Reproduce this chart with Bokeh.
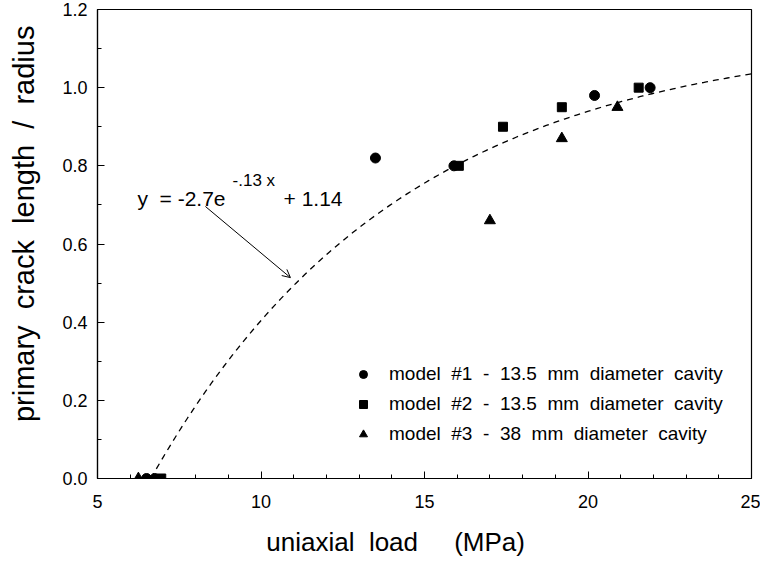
import numpy as np
from bokeh.plotting import figure
from bokeh.models import (Range1d, FixedTicker, PrintfTickFormatter, Label, Arrow,
                          OpenHead, Legend, LegendItem)
from bokeh.embed import file_html
from bokeh.resources import INLINE

# ---- data ----
m1_x = [6.5, 6.75, 13.5, 15.9, 20.2, 21.9]
m1_y = [0.0, 0.0, 0.82, 0.80, 0.98, 1.00]
m2_x = [6.95, 16.05, 17.4, 19.2, 21.55]
m2_y = [0.0, 0.80, 0.90, 0.95, 1.00]
m3_x = [6.25, 17.0, 19.2, 20.9]
m3_y = [0.0, 0.66, 0.87, 0.95]

NB = "\u00a0"
labels = [f"model{NB*2}#1{NB*2}-{NB*2}13.5{NB*2}mm{NB*2}diameter{NB*2}cavity",
          f"model{NB*2}#2{NB*2}-{NB*2}13.5{NB*2}mm{NB*2}diameter{NB*2}cavity",
          f"model{NB*2}#3{NB*2}-{NB*2}38{NB*2}mm{NB*2}diameter{NB*2}cavity"]

# fitted curve shown in the chart: y = a*exp(b*x) + c
fit_a, fit_b, fit_c = -2.7, -0.13, 1.14
x_ticks = [5, 10, 15, 20, 25]
y_ticks = [0.0, 0.2, 0.4, 0.6, 0.8, 1.0, 1.2]

FONT = "Liberation Sans"

p = figure(width=760, height=559, x_range=Range1d(5, 25), y_range=Range1d(0, 1.2),
           output_backend="svg", toolbar_location=None,
           min_border_left=97, min_border_right=9, min_border_top=9, min_border_bottom=81)

p.grid.visible = False
p.outline_line_color = "black"
p.outline_line_width = 1.2
p.background_fill_color = "white"
p.border_fill_color = "white"

# axes
p.xaxis.ticker = FixedTicker(ticks=x_ticks, minor_ticks=list(range(5, 26)))
p.yaxis.ticker = FixedTicker(ticks=y_ticks, minor_ticks=[i / 10 for i in range(13)])
p.xaxis.formatter = PrintfTickFormatter(format="%d")
p.yaxis.formatter = PrintfTickFormatter(format="%.1f")
for ax in (p.xaxis, p.yaxis):
    ax.axis_line_color = "black"
    ax.axis_line_width = 1.2
    ax.major_tick_in = 7
    ax.major_tick_out = 0
    ax.minor_tick_in = 4
    ax.minor_tick_out = 0
    ax.major_tick_line_color = "black"
    ax.minor_tick_line_color = "black"
    ax.major_label_text_font = FONT
    ax.major_label_text_font_size = "18px"
    ax.major_label_text_color = "black"
    ax.axis_label_text_font = FONT
    ax.axis_label_text_font_style = "normal"
    ax.axis_label_text_color = "black"

p.xaxis.axis_label = f"uniaxial{NB*2}load{NB*5}(MPa)" + NB * 8
p.xaxis.axis_label_text_font_size = "26px"
p.xaxis.major_label_standoff = 16
p.xaxis.axis_label_standoff = 16

p.yaxis.axis_label = NB * 5 + f"primary{NB*2}crack{NB*2}length{NB*2}/{NB*2}radius"
p.yaxis.axis_label_text_font_size = "29px"
p.yaxis.major_label_standoff = 10
p.yaxis.axis_label_standoff = 19

# fitted dashed curve
x0 = np.log(fit_c / -fit_a) / fit_b
xs = np.linspace(x0, 25, 200)
ys = fit_a * np.exp(fit_b * xs) + fit_c
p.line(xs, ys, line_color="black", line_width=1.3, line_dash="6 5")

# data points
r1 = p.scatter(m1_x, m1_y, marker="circle", size=10, color="black")
r2 = p.scatter(m2_x, m2_y, marker="square", size=9, color="black")
r3 = p.scatter(m3_x, m3_y, marker="triangle", size=11, color="black")

legend = Legend(items=[LegendItem(label=labels[0], renderers=[r1]),
                       LegendItem(label=labels[1], renderers=[r2]),
                       LegendItem(label=labels[2], renderers=[r3])],
                location=(256, 33), glyph_width=20, glyph_height=20, label_height=20,
                spacing=8, padding=0, margin=0, label_standoff=16,
                border_line_alpha=0, background_fill_alpha=0,
                label_text_font=FONT, label_text_font_size="19px", label_text_color="black")
p.add_layout(legend)

# equation annotation
eq_y = 0.716
p.add_layout(Label(x=6.22, y=eq_y, text=f"y{NB*2}={NB}-2.7e", text_font=FONT,
                   text_font_size="21px", text_baseline="alphabetic", text_color="black"))
p.add_layout(Label(x=9.13, y=0.762, text=f"-.13{NB}x", text_font=FONT,
                   text_font_size="17px", text_baseline="alphabetic", text_color="black"))
p.add_layout(Label(x=10.69, y=eq_y, text=f"+{NB}1.14", text_font=FONT,
                   text_font_size="21px", text_baseline="alphabetic", text_color="black"))
p.add_layout(Arrow(end=OpenHead(size=8, line_width=1, line_color="black"),
                   x_start=8.3, y_start=0.696, x_end=10.9, y_end=0.514,
                   line_width=1, line_color="black"))

open("out.html", "w").write(file_html(p, INLINE))
